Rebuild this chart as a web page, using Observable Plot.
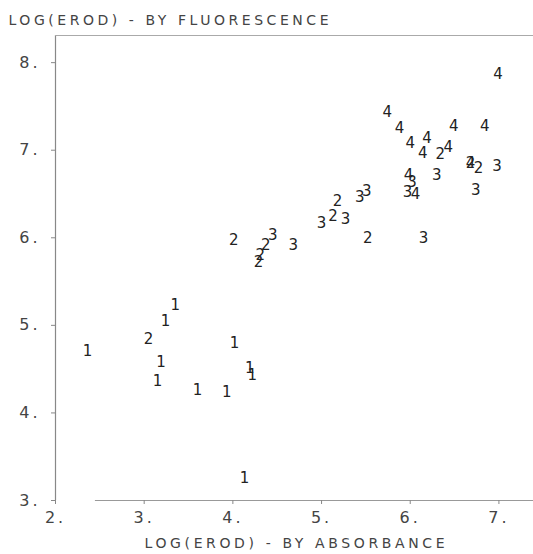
<!DOCTYPE html>
<html>
<head>
<meta charset="utf-8">
<script src="https://cdn.jsdelivr.net/npm/d3@7"></script>
<script src="https://cdn.jsdelivr.net/npm/@observablehq/plot@0.6"></script>
<style>
  html, body { margin: 0; padding: 0; background: #fff; }
  svg { font-family: "DejaVu Sans", sans-serif; }
</style>
</head>
<body>
<div id="chart"></div>
<script>
// Group labels (symbol drawn for each point)
const groups = ["1", "2", "3", "4"];

// LOG(EROD) by absorbance (x) and by fluorescence (y), per group
const g1x = [3.35, 3.24, 2.36, 4.02, 3.19, 4.19, 4.22, 3.15, 3.60, 3.93, 4.13];
const g1y = [5.23, 5.05, 4.71, 4.80, 4.58, 4.51, 4.43, 4.36, 4.26, 4.24, 3.25];

const g2x = [6.34, 6.68, 6.77, 5.18, 5.13, 5.52, 4.01, 4.37, 4.31, 4.29, 3.05];
const g2y = [6.96, 6.85, 6.79, 6.42, 6.25, 5.99, 5.97, 5.91, 5.80, 5.72, 4.84];

const g3x = [6.98, 6.74, 6.02, 5.97, 6.30, 5.51, 5.43, 5.00, 5.27, 6.15, 4.45, 4.68];
const g3y = [6.82, 6.54, 6.63, 6.52, 6.71, 6.53, 6.46, 6.17, 6.21, 5.99, 6.03, 5.91];

const g4x = [5.74, 5.88, 6.49, 6.84, 6.19, 6.00, 6.14, 6.43, 6.68, 5.98, 6.06, 6.99];
const g4y = [7.43, 7.25, 7.27, 7.27, 7.14, 7.08, 6.97, 7.03, 6.85, 6.71, 6.50, 7.87];

const xTicks = [2, 3, 4, 5, 6, 7];
const yTicks = [3, 4, 5, 6, 7, 8];
const xLabel = "LOG(EROD) - BY ABSORBANCE";
const yLabel = "LOG(EROD) - BY FLUORESCENCE";

const xDomain = [2, 7.39];
const yDomain = [3, 8.31];

const series = [[g1x, g1y], [g2x, g2y], [g3x, g3y], [g4x, g4y]];
const rows = series.flatMap(([xs, ys], i) =>
  xs.map((x, j) => ({group: groups[i], x, y: ys[j]}))
);

const thin = '"DejaVu Sans ExtraLight", "DejaVu Sans", sans-serif';

const chart = Plot.plot({
  width: 533,
  height: 554,
  marginLeft: 55,
  marginRight: 0,
  marginTop: 35,
  marginBottom: 54,
  x: {domain: xDomain},
  y: {domain: yDomain},
  marks: [
    Plot.ruleX([xDomain[0]], {stroke: "#888", strokeWidth: 1.2}),
    Plot.ruleY([yDomain[1]], {stroke: "#aaa", strokeWidth: 1}),
    Plot.ruleY([yDomain[0]], {x1: 2.45, x2: xDomain[1], stroke: "#999", strokeWidth: 1}),
    Plot.axisX({ticks: xTicks, tickFormat: d => d + ".", tickSize: 4, tickPadding: 7,
      fontSize: 16, label: null, stroke: "#888", fill: "#444"}),
    Plot.axisY({ticks: yTicks, tickFormat: d => d + ".", tickSize: 4, tickPadding: 11,
      fontSize: 16, label: null, stroke: "#888", fill: "#444"}),
    Plot.text(rows, {x: "x", y: "y", text: "group", fontSize: 15, fill: "#222"}),
    Plot.text([yLabel], {frameAnchor: "top-left", text: d => d, dx: -47, dy: -20,
      textAnchor: "start", fontSize: 14, fill: "#444"}),
    Plot.text([xLabel], {frameAnchor: "bottom", text: d => d, dy: 47,
      fontSize: 14, fill: "#444"})
  ]
});

document.getElementById("chart").appendChild(chart);

// Thin, widely spaced lettering like the original plotter font
d3.select(chart).selectAll("text").attr("font-family", thin);
d3.select(chart).selectAll("text").each(function() {
  const t = this.textContent;
  if (t === yLabel) d3.select(this).attr("textLength", 320).attr("lengthAdjust", "spacing");
  else if (t === xLabel) d3.select(this).attr("textLength", 300).attr("lengthAdjust", "spacing");
  else if (/^\d\.$/.test(t)) d3.select(this).attr("letter-spacing", 3);
});
</script>
</body>
</html>
